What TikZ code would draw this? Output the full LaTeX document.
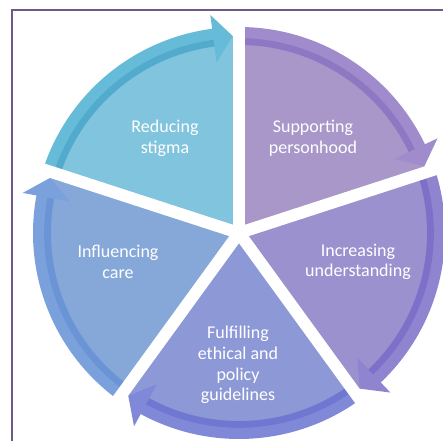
\documentclass[tikz,border=0pt]{standalone}
\usepackage{fontspec}
\setmainfont{Carlito}
\definecolor{frameCol}{HTML}{6E5A8A}
\definecolor{redBody}{HTML}{80C4DD}
\definecolor{redBand}{HTML}{66BCD8}
\definecolor{redLine}{HTML}{52AACD}
\definecolor{supBody}{HTML}{A897C8}
\definecolor{supBand}{HTML}{A08CCC}
\definecolor{supLine}{HTML}{8E78C4}
\definecolor{incBody}{HTML}{9B91CF}
\definecolor{incBand}{HTML}{8F84D0}
\definecolor{incLine}{HTML}{7E70C9}
\definecolor{fulBody}{HTML}{8D98D6}
\definecolor{fulBand}{HTML}{8089D8}
\definecolor{fulLine}{HTML}{6F78D1}
\definecolor{infBody}{HTML}{85A8D8}
\definecolor{infBand}{HTML}{7BA1DC}
\definecolor{infLine}{HTML}{6B94D7}
\begin{document}
\begin{tikzpicture}[x=0.75pt, y=0.75pt,
    seglabel/.style={text=white, align=center, font=\fontsize{13.5}{15.5}\selectfont},
    gap/.style={white, line width=9pt},
    stripe/.style={line width=5pt}]
    \useasboundingbox (-239,-208) rectangle (204,233);
    \coordinate (c) at (0,0);

% supporting personhood
    \fill[supBody] (c) -- (90:197) arc[start angle=90, end angle=18, radius=197] -- cycle;
    \fill[supBand] (90:206) arc[start angle=90, end angle=25.5, radius=206] -- (25.5:220) -- (19.8:197) -- (25.5:172) -- (25.5:188) arc[start angle=25.5, end angle=90, radius=188] -- cycle;
    \draw[supLine, stripe] (90:191.5) arc[start angle=90, end angle=25.5, radius=191.5];

% increasing understanding
    \fill[incBody] (c) -- (18:197) arc[start angle=18, end angle=-54, radius=197] -- cycle;
    \fill[incBand] (18:206) arc[start angle=18, end angle=-46.5, radius=206] -- (-46.5:220) -- (-52.2:197) -- (-46.5:172) -- (-46.5:188) arc[start angle=-46.5, end angle=18, radius=188] -- cycle;
    \draw[incLine, stripe] (18:191.5) arc[start angle=18, end angle=-46.5, radius=191.5];

% fulfilling ethical and policy guidelines
    \fill[fulBody] (c) -- (-54:197) arc[start angle=-54, end angle=-126, radius=197] -- cycle;
    \fill[fulBand] (-54:206) arc[start angle=-54, end angle=-118.5, radius=206] -- (-118.5:220) -- (-124.2:197) -- (-118.5:172) -- (-118.5:188) arc[start angle=-118.5, end angle=-54, radius=188] -- cycle;
    \draw[fulLine, stripe] (-54:191.5) arc[start angle=-54, end angle=-118.5, radius=191.5];

% influencing care
    \fill[infBody] (c) -- (234:197) arc[start angle=234, end angle=162, radius=197] -- cycle;
    \fill[infBand] (234:206) arc[start angle=234, end angle=169.5, radius=206] -- (169.5:220) -- (163.8:197) -- (169.5:172) -- (169.5:188) arc[start angle=169.5, end angle=234, radius=188] -- cycle;
    \draw[infLine, stripe] (234:191.5) arc[start angle=234, end angle=169.5, radius=191.5];

% reducing stigma
    \fill[redBody] (c) -- (162:197) arc[start angle=162, end angle=90, radius=197] -- cycle;
    \fill[redBand] (162:206) arc[start angle=162, end angle=97.5, radius=206] -- (97.5:220) -- (91.8:197) -- (97.5:172) -- (97.5:188) arc[start angle=97.5, end angle=162, radius=188] -- cycle;
    \draw[redLine, stripe] (162:191.5) arc[start angle=162, end angle=97.5, radius=191.5];

% gaps
    \draw[gap] (c) -- (90:232);
    \draw[gap] (c) -- (18:232);
    \draw[gap] (c) -- (-54:232);
    \draw[gap] (c) -- (-126:232);
    \draw[gap] (c) -- (162:232);

% frame
    \coordinate (F1) at (204,223);
    \coordinate (F2) at (-227,223);
    \coordinate (F3) at (-227,-208);
    \draw[frameCol, line width=1.5pt] (F1) -- (F2) -- (F3);

% labels
    \node[seglabel] (sup) at (74,95) {Supporting\\personhood};
    \node[seglabel] (inc) at (119,-29) {Increasing\\understanding};
    \node[seglabel] (ful) at (-1,-132) {Fulfilling\\ethical and\\policy\\guidelines};
    \node[seglabel] (inf) at (-121,-29) {Influencing\\care};
    \node[seglabel] (red) at (-74,95) {Reducing\\stigma};

\end{tikzpicture}
\end{document}
